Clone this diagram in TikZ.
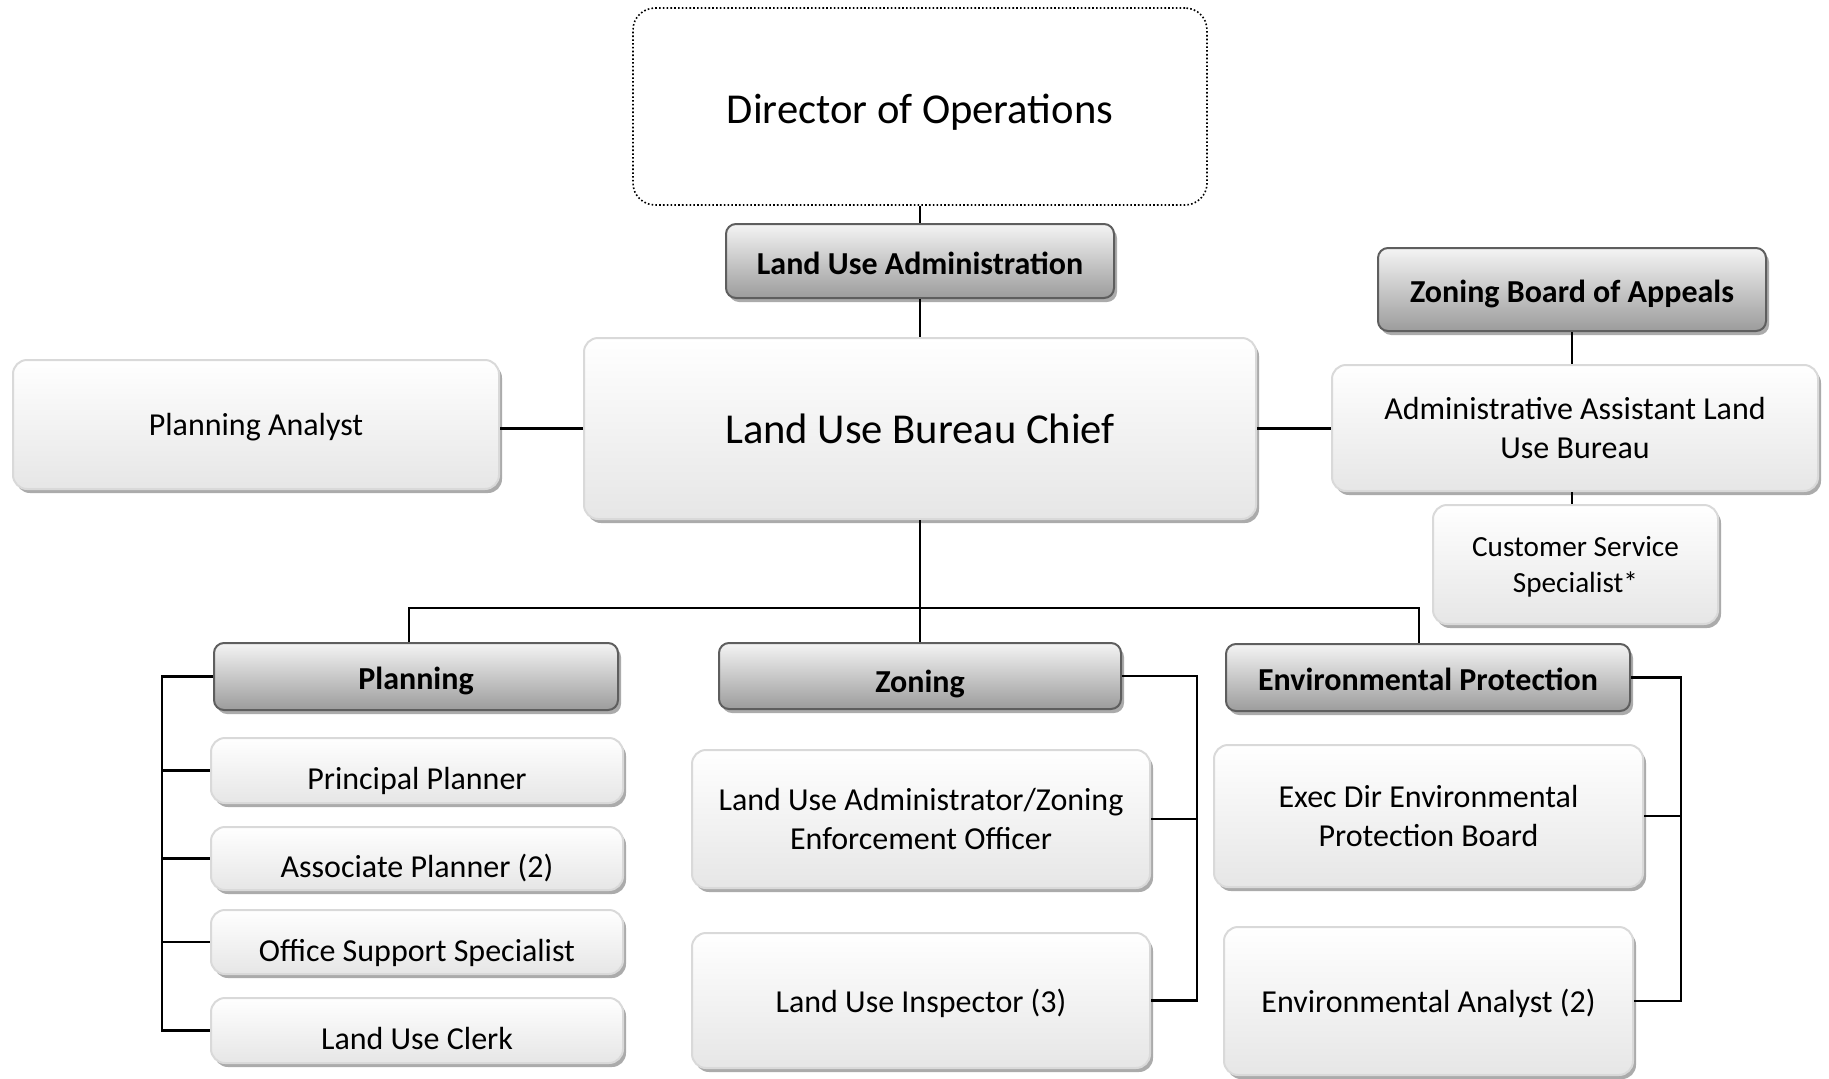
\documentclass[tikz,border=0pt]{standalone}
\usepackage{fontspec}
\setmainfont{Carlito}
\usetikzlibrary{shadows,calc}
\definecolor{lbd}{HTML}{D9D9D9}
\definecolor{lbot}{HTML}{E6E6E6}
\definecolor{htop}{HTML}{F4F4F4}
\definecolor{hbot}{HTML}{9C9C9C}
\definecolor{hbd}{HTML}{5E5E5E}
\definecolor{shd}{HTML}{ABABAB}
\tikzset{
  boxbase/.style={align=center, inner sep=0pt, text=black,
    drop shadow={shadow xshift=3pt, shadow yshift=-4pt, fill=shd, opacity=1}},
  lightbox/.style={boxbase, draw=lbd, line width=2pt, rounded corners=14pt,
    top color=white, bottom color=lbot, font=\fontsize{32}{38.5}\selectfont},
  smallbox/.style={lightbox, text height=44pt, text depth=6pt},
  headbox/.style={boxbase, draw=hbd, line width=2pt, rounded corners=10pt,
    top color=htop, bottom color=hbot, font=\bfseries\fontsize{32}{38}\selectfont,
    text height=28pt, text depth=2pt},
  dirbox/.style={draw=black, dash pattern=on 1.6pt off 2.2pt, line width=1.6pt, rounded corners=22pt,
    fill=white, align=center, font=\fontsize{42.6}{50}\selectfont},
  conn/.style={line width=2.5pt, draw=black}
}
\begin{document}
\begin{tikzpicture}[x=1pt,y=-1pt]
\useasboundingbox (0,0) rectangle (1829,1079);
% top chain
\node[dirbox, minimum width=574pt, minimum height=197pt, text height=36pt, text depth=1.6pt] (dir) at (920,106.5) {Director of Operations};
\node[headbox, minimum width=388pt, minimum height=74pt] (lua) at (920,261) {Land Use Administration};
\node[lightbox, minimum width=672pt, minimum height=181pt, font=\fontsize{42.6}{50}\selectfont] (chief) at (920,428.5) {Land Use Bureau Chief};
\node[lightbox, minimum width=486pt, minimum height=129pt, text depth=0pt] (pa) at (256,424.5) {Planning Analyst};
% right side
\node[headbox, minimum width=388pt, minimum height=83pt] (zba) at (1572,289.5) {Zoning Board of Appeals};
\node[lightbox, minimum width=486pt, minimum height=126pt, text depth=0pt] (aa) at (1575,428) {Administrative Assistant Land\\Use Bureau};
\node[lightbox, minimum width=285pt, minimum height=119pt, font=\fontsize{29.2}{36}\selectfont, text depth=0pt] (css) at (1575.5,564.5) {Customer Service\\Specialist*};
% planning
\node[headbox, minimum width=404pt, minimum height=67pt, text height=27pt] (plan) at (416,676.5) {Planning};
\node[smallbox, minimum width=412pt, minimum height=65pt] (pp) at (417,770.5) {Principal Planner};
\node[smallbox, minimum width=412pt, minimum height=63pt] (ap) at (417,858.5) {Associate Planner (2)};
\node[smallbox, minimum width=412pt, minimum height=64pt] (oss) at (417,942) {Office Support Specialist};
\node[smallbox, minimum width=412pt, minimum height=65pt] (luc) at (417,1030.5) {Land Use Clerk};
% zoning
\node[headbox, minimum width=402pt, minimum height=66pt, text height=34pt, text depth=1.4pt] (zon) at (920,676) {Zoning};
\node[lightbox, minimum width=458pt, minimum height=138pt] (luazeo) at (921,819) {Land Use Administrator/Zoning\\Enforcement Officer};
\node[lightbox, minimum width=458pt, minimum height=135pt, text depth=0pt] (lui) at (921,1000.5) {Land Use Inspector (3)};
% environmental
\node[headbox, minimum width=404pt, minimum height=67pt] (ep) at (1428,677.5) {Environmental Protection};
\node[lightbox, minimum width=429pt, minimum height=142pt] (edep) at (1428.5,816) {Exec Dir Environmental\\Protection Board};
\node[lightbox, minimum width=409pt, minimum height=148pt, text depth=0pt] (ea) at (1428.5,1001) {Environmental Analyst (2)};
% connectors
\coordinate (bl) at (409,608);
\coordinate (br) at (1419,608);
\coordinate (pbr) at (162,0);
\coordinate (zbr) at (1197,0);
\coordinate (ebr) at (1681,0);
\draw[conn] (dir.south) -- (lua.north);
\draw[conn] (lua.south) -- (chief.north);
\draw[conn] (chief.west) -- (chief.west -| pa.east);
\draw[conn] (chief.east) -- (chief.east -| aa.west);
\draw[conn] (zba.south) -- (zba.south |- aa.north);
\draw[conn] (aa.south -| zba.south) -- (css.north -| zba.south);
\draw[conn] (chief.south) -- (zon.north);
\draw[conn] (bl |- plan.north) -- (bl) -- (br) -- (br |- ep.north);
\draw[conn] (plan.west) -- (plan.west -| pbr) -- (pbr |- luc.west) -- (luc.west);
\foreach \n in {pp,ap,oss} \draw[conn] (pbr |- \n.west) -- (\n.west);
\draw[conn] (zon.east) -- (zon.east -| zbr) -- (zbr |- lui.east) -- (lui.east);
\draw[conn] (zbr |- luazeo.east) -- (luazeo.east);
\draw[conn] (ep.east) -- (ep.east -| ebr) -- (ebr |- ea.east) -- (ea.east);
\draw[conn] (ebr |- edep.east) -- (edep.east);
\end{tikzpicture}
\end{document}
